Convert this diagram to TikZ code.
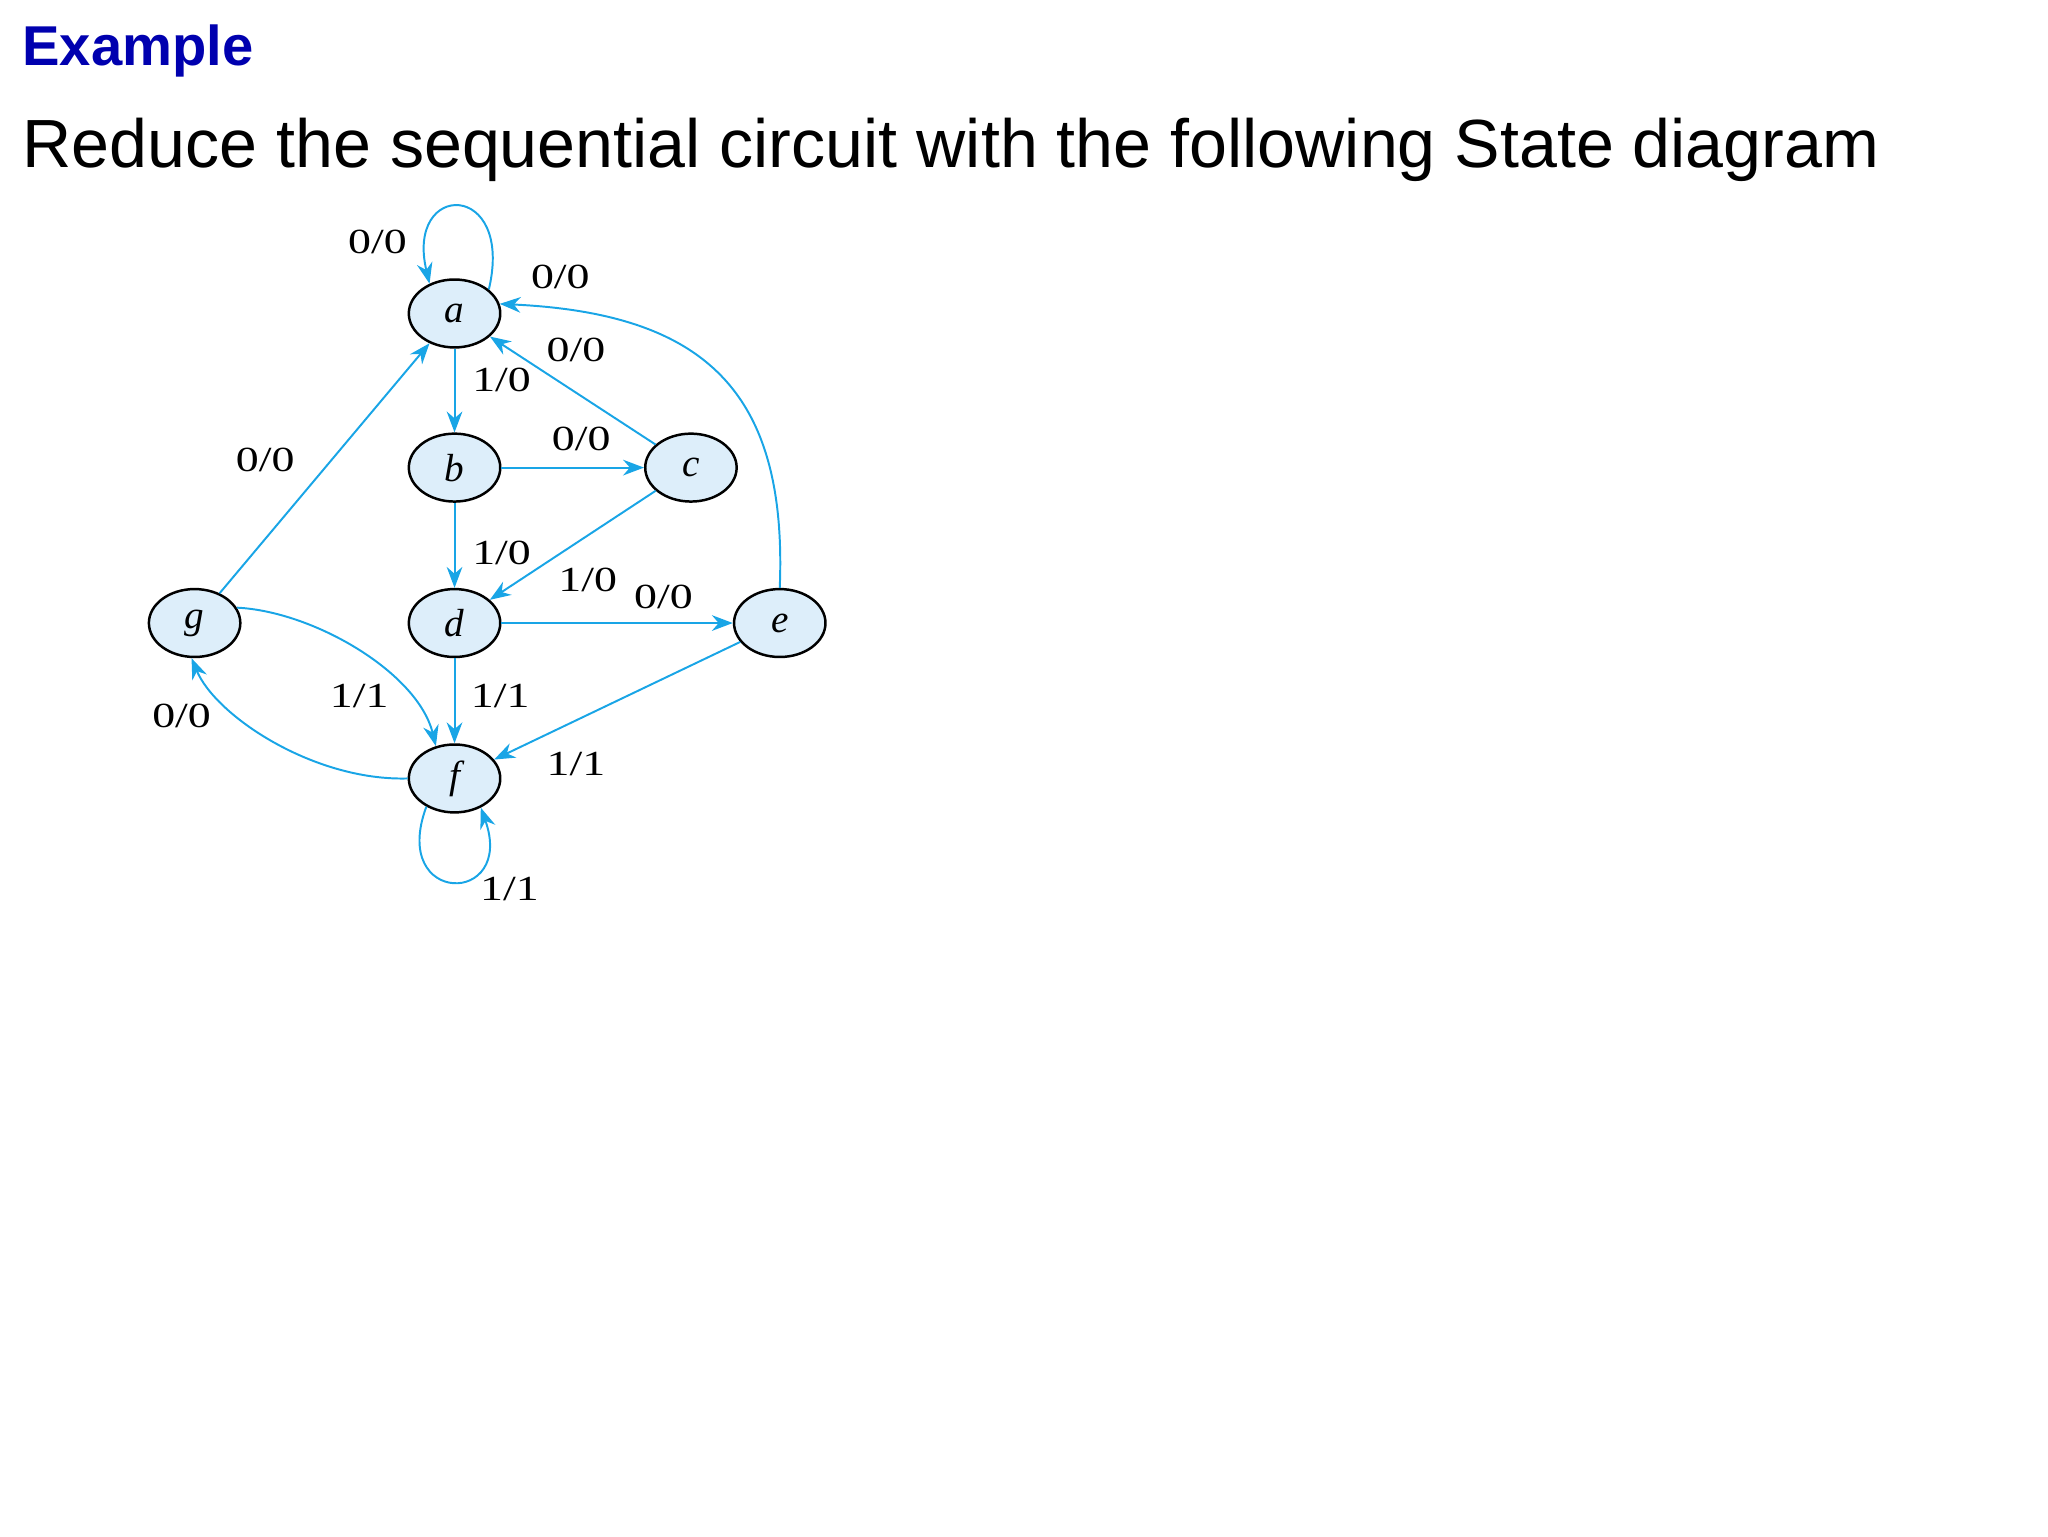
\documentclass[tikz,border=0pt]{standalone}
\usepackage{fontspec}
\newfontfamily\slidefont{Liberation Sans}
\newfontfamily\figfont{Liberation Serif}
\usepackage{tikz}
\usetikzlibrary{arrows.meta,shapes.geometric}

\definecolor{edgeblue}{RGB}{25,165,230}
\definecolor{statefill}{RGB}{221,238,250}
\definecolor{titleblue}{RGB}{0,0,175}

\newcommand{\io}[1]{\scalebox{1.3}[1]{#1}}

\tikzset{
	state/.style={ellipse,draw=black,line width=1.9pt,fill=statefill,minimum width=70pt,minimum height=52pt,inner sep=0pt,font=\figfont\itshape\fontsize{30}{30}\selectfont},
	edge/.style={draw=edgeblue,line width=1.5pt,-{Stealth[length=16pt,width=12pt]}},
	lbl/.style={font=\figfont\fontsize{27}{27}\selectfont,inner sep=0pt}
}

\begin{document}
\begin{tikzpicture}[x=1pt,y=-1pt]
			\useasboundingbox (0,0) rectangle (1568,1176);
			\node (head) at (17,50) [anchor=base west,inner sep=0pt,text=titleblue] {\slidefont\bfseries\fontsize{43}{43}\selectfont Example};
			\node (task) at (17,128) [anchor=base west,inner sep=0pt] {\slidefont\fontsize{52.2}{52.2}\selectfont Reduce the sequential circuit with the following State diagram};
			% states
			\node (a) at (348,240) [state] {a};
			\node (b) at (348,358) [state] {b};
			\node (c) at (529,358) [state] {c};
			\node (d) at (348,477) [state] {d};
			\node (e) at (597,477) [state] {e};
			\node (g) at (149,477) [state] {g};
			\node (f) at (348,596) [state] {f};
			% transitions
			\draw[edge] (a.35) .. controls (394,138) and (310,138) .. (a.130);
			\draw[edge] (e.north) .. controls (603,300) and (540,240) .. (a.12);
			\draw[edge] (c) -- (a);
			\draw[edge] (a) -- (b);
			\draw[edge] (b) -- (c);
			\draw[edge] (b) -- (d);
			\draw[edge] (c) -- (d);
			\draw[edge] (d) -- (e);
			\draw[edge] (g) -- (a);
			\draw[edge] (g.20) .. controls (240,468) and (320,515) .. (f.120);
			\draw[edge] (f.west) .. controls (240,598) and (165,548) .. (g.-95);
			\draw[edge] (d) -- (f);
			\draw[edge] (e) -- (f);
			\draw[edge] (f.-135) .. controls (298,694) and (395,694) .. (f.-48);
			% labels
			\node (laa) at (289,185) [lbl] {\io{0/0}};
			\node (lea) at (429,212) [lbl] {\io{0/0}};
			\node (lca) at (441,268) [lbl] {\io{0/0}};
			\node (lab) at (384,291) [lbl] {\io{1/0}};
			\node (lbc) at (445,336) [lbl] {\io{0/0}};
			\node (lbd) at (384,423) [lbl] {\io{1/0}};
			\node (lcd) at (450,444) [lbl] {\io{1/0}};
			\node (lde) at (508,457) [lbl] {\io{0/0}};
			\node (lga) at (203,352) [lbl] {\io{0/0}};
			\node (lgf) at (275,533) [lbl] {\io{1/1}};
			\node (lfg) at (139,548) [lbl] {\io{0/0}};
			\node (ldf) at (383,533) [lbl] {\io{1/1}};
			\node (lef) at (441,585) [lbl] {\io{1/1}};
			\node (lff) at (390,681) [lbl] {\io{1/1}};
		\end{tikzpicture}
\end{document}
